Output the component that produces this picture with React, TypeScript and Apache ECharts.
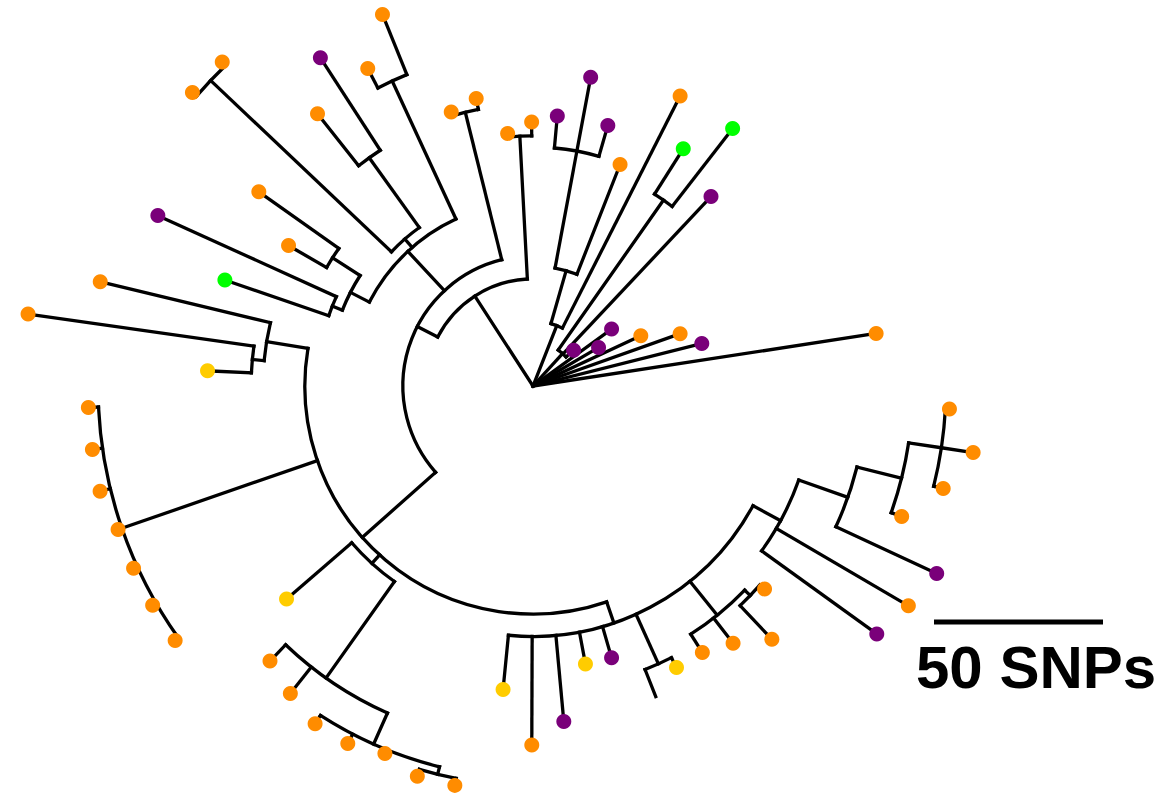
import React, { useEffect, useRef } from "react";
import * as echarts from "echarts";

// ---------- data ----------
// leaf branch tip distance from root (SNPs), in circular order (counter-clockwise)
const LEAF_RADIUS = [
  102.7, 51.5, 46.2, 35.2, 22.5, 28.7, 16.0, 76.9, 96.4, 83.1,
  96.2, 70.4, 80.2, 92.9, 80.2, 78.1, 75.1, 86.7, 84.6, 118.6,
  105.9, 115.7, 102.7, 132.8, 133.0, 99.4, 83.4, 121.9, 96.4, 131.7,
  150.9, 96.4, 131.7, 131.7, 131.8, 129.9, 129.9, 129.9, 129.9, 96.4,
  112.6, 115.9, 118.9, 119.1, 117.2, 120.4, 120.4, 90.2, 106.2, 99.7,
  83.7, 83.7, 98.8, 93.5, 93.4, 96.4, 103.0, 91.1, 125.4, 128.7,
  131.7, 115.7, 125.1, 131.7, 123.4,
];
// leaf group (O orange, P purple, G green, Y yellow, "" none)
const LEAF_GROUP = [
  "O", "P", "O", "O", "P", "P", "P", "P", "G", "G",
  "O", "O", "P", "P", "P", "O", "O", "O", "O", "O",
  "O", "P", "O", "O", "O", "O", "O", "P", "G", "O",
  "O", "Y", "O", "O", "O", "O", "O", "O", "O", "Y",
  "O", "O", "O", "O", "O", "O", "O", "Y", "O", "P",
  "Y", "P", "", "Y", "O", "O", "O", "O", "P", "O",
  "P", "O", "O", "O", "O",
];
const LEAF_PARENT = [
  "root", "root", "root", "root", "root", "root", "S", "S", "G", "G",
  "R", "P", "Q", "Q", "Q", "T", "T", "U", "U", "Z",
  "Z", "Y", "Y", "X", "X", "AB", "AB", "AC", "AC", "CC",
  "DD", "DD", "EE", "EE", "EE", "EE", "EE", "EE", "EE", "FF",
  "HH", "HH", "II", "II", "II", "JJ", "JJ", "GG", "GG", "GG",
  "GG", "GG", "KK", "KK", "LL", "LL", "OO", "OO", "MM", "MM",
  "PP", "QQ", "RR", "RR", "RR",
];
// internal nodes
const NODE_NAMES = [
  "root", "S", "G", "R", "P", "Q", "A", "T", "NB", "U",
  "V", "Z", "W", "X", "Y", "AA", "AB", "AC", "BB", "CC",
  "DD", "EE", "FF", "HH", "II", "JJ", "GG", "KK", "LL", "OO",
  "MM", "PP", "QQ", "RR",
];
const NODE_PARENT = [
  "", "root", "S", "root", "R", "P", "root", "A", "A", "NB",
  "NB", "V", "V", "W", "W", "V", "AA", "AA", "NB", "BB",
  "CC", "BB", "BB", "FF", "HH", "II", "BB", "GG", "GG", "LL",
  "GG", "MM", "PP", "QQ",
];
const NODE_RADIUS = [
  0, 13.0, 67.2, 19.2, 35.5, 70.7, 31.7, 74.0, 38.5, 83.4,
  54.4, 99.4, 57.7, 131.4, 83.1, 60.7, 70.4, 63.9, 67.5, 79.9,
  83.4, 128.7, 70.9, 105.9, 116.0, 118.3, 74.1, 90.2, 87.0, 89.3,
  83.4, 98.8, 112.4, 122.2,
];
const GROUP_COLORS: Record<string, string> = {
  O: "#FF8C00",
  P: "#7A007A",
  G: "#00FF00",
  Y: "#FFCC00",
};
const SCALE_SNPS = 50;
const SCALE_LABEL = "50 SNPs";

// ---------- layout ----------
const ANGLE_SLOTS = 66.18; // leaf slots around the circle
const MAX_R = 160;
const PX_PER_SNP = 3.38;

function buildTree() {
  const children: Record<string, { kind: "leaf" | "node"; idx: number }[]> = {};
  NODE_NAMES.forEach((n) => (children[n] = []));
  LEAF_PARENT.forEach((p, i) => children[p].push({ kind: "leaf", idx: i }));
  NODE_PARENT.forEach((p, i) => {
    if (p) children[p].push({ kind: "node", idx: i });
  });
  const angleCache: Record<string, number> = {};
  const angleOf = (c: { kind: string; idx: number }): number => {
    if (c.kind === "leaf") return c.idx;
    const name = NODE_NAMES[c.idx];
    if (angleCache[name] !== undefined) return angleCache[name];
    const ks = children[name].map(angleOf);
    const v = ks.reduce((a, b) => a + b, 0) / ks.length;
    angleCache[name] = v;
    return v;
  };
  const radiusOfNode = (name: string) => NODE_RADIUS[NODE_NAMES.indexOf(name)];
  const segs: number[][] = [];
  NODE_NAMES.forEach((name, i) => {
    const a = angleOf({ kind: "node", idx: i });
    const ks = children[name].map(angleOf);
    const pr = NODE_PARENT[i] ? radiusOfNode(NODE_PARENT[i]) : 0;
    segs.push([NODE_RADIUS[i], a, pr, Math.min(...ks), Math.max(...ks), 1]);
  });
  LEAF_PARENT.forEach((p, i) => {
    segs.push([LEAF_RADIUS[i], i, radiusOfNode(p), i, i, 0]);
  });
  return segs;
}

export default function App() {
  const ref = useRef<HTMLDivElement>(null);
  useEffect(() => {
    if (!ref.current) return;
    const chart = echarts.init(ref.current, undefined, { renderer: "svg" });
    const segs = buildTree();
    const leafData = LEAF_RADIUS.map((r, i) => ({
      value: [r, i],
      itemStyle: { color: GROUP_COLORS[LEAF_GROUP[i]] || "rgba(0,0,0,0)" },
      symbolSize: LEAF_GROUP[i] ? 15 : 0,
    }));
    const LW = 3.3;
    chart.setOption({
      animation: false,
      backgroundColor: "#ffffff",
      polar: { center: [533, 386], radius: MAX_R * PX_PER_SNP },
      angleAxis: {
        type: "value",
        min: 0,
        max: ANGLE_SLOTS,
        startAngle: 8.7,
        clockwise: false,
        show: false,
      },
      radiusAxis: { type: "value", min: 0, max: MAX_R, show: false },
      series: [
        {
          type: "custom",
          coordinateSystem: "polar",
          encode: { radius: 0, angle: 1 },
          data: segs,
          clip: false,
          z: 2,
          renderItem: (params: any, api: any) => {
            const r = api.value(0);
            const a = api.value(1);
            const pr = api.value(2);
            const a0 = api.value(3);
            const a1 = api.value(4);
            const internal = api.value(5);
            const p = api.coord([r, a]);
            const q = api.coord([pr, a]);
            const kids: any[] = [];
            if (r > 0) {
              kids.push({
                type: "line",
                shape: { x1: q[0], y1: q[1], x2: p[0], y2: p[1] },
                style: { stroke: "#000", lineWidth: LW, lineCap: "square" },
              });
            }
            if (internal && r > 0 && a1 > a0) {
              const c = api.coord([0, a]);
              const s = api.coord([r, a0]);
              const e = api.coord([r, a1]);
              const rpx = Math.hypot(p[0] - c[0], p[1] - c[1]);
              let sa = Math.atan2(s[1] - c[1], s[0] - c[0]);
              const ea = Math.atan2(e[1] - c[1], e[0] - c[0]);
              while (sa < ea) sa += 2 * Math.PI;
              kids.push({
                type: "arc",
                shape: { cx: c[0], cy: c[1], r: rpx, startAngle: ea, endAngle: sa, clockwise: true },
                style: { stroke: "#000", fill: "none", lineWidth: LW, lineCap: "square" },
              });
            }
            return { type: "group", children: kids };
          },
        },
        {
          type: "scatter",
          coordinateSystem: "polar",
          data: leafData,
          symbol: "circle",
          z: 5,
          itemStyle: { opacity: 1 },
        },
        {
          type: "custom",
          coordinateSystem: "polar",
          encode: { radius: 0, angle: 1 },
          data: [[SCALE_SNPS, 0]],
          clip: false,
          z: 3,
          renderItem: (params: any, api: any) => {
            const p0 = api.coord([0, 0]);
            const p1 = api.coord([api.value(0), 0]);
            const len = Math.hypot(p1[0] - p0[0], p1[1] - p0[1]);
            const x0 = 934;
            const y0 = 622;
            return {
              type: "group",
              children: [
                {
                  type: "line",
                  shape: { x1: x0, y1: y0, x2: x0 + len, y2: y0 },
                  style: { stroke: "#000", lineWidth: 5 },
                },
                {
                  type: "text",
                  style: {
                    text: SCALE_LABEL,
                    x: 916,
                    y: 667,
                    align: "left",
                    verticalAlign: "middle",
                    fill: "#000",
                    font: "bold 60px 'Liberation Sans', Arial, Helvetica, sans-serif",
                  },
                },
              ],
            };
          },
        },
      ],
    });
    return () => chart.dispose();
  }, []);
  return (
    <div
      ref={ref}
      style={{ position: "absolute", left: 0, top: 0, width: 1164, height: 796 }}
    />
  );
}
